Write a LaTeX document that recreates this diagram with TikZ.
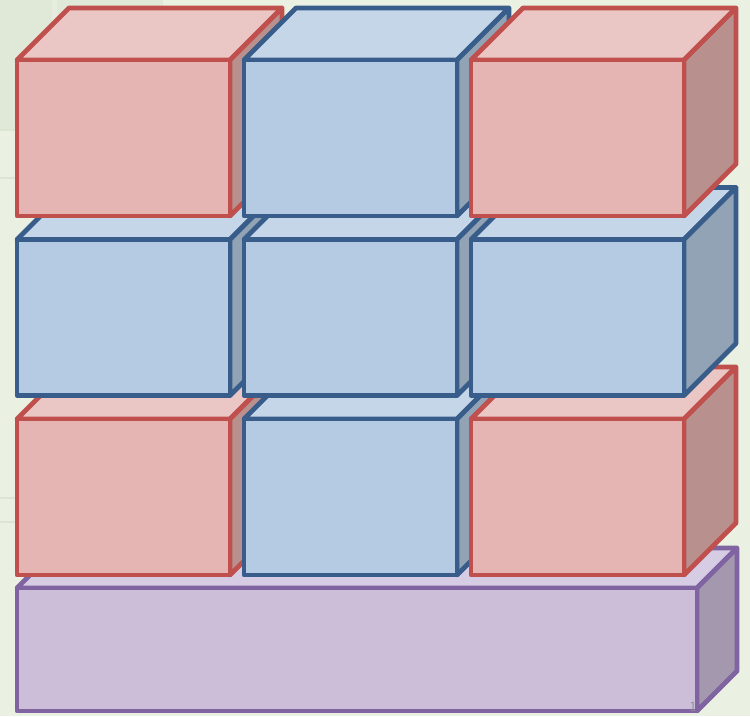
\documentclass[tikz,border=0pt]{standalone}
\usepackage{tikz}
\definecolor{bg}{HTML}{EBF1E2}
\definecolor{bgdark}{HTML}{E0E8D8}
\definecolor{bgline}{HTML}{DCE4D3}
\definecolor{redline}{HTML}{C0504D}
\definecolor{redfront}{HTML}{E5B5B4}
\definecolor{redtop}{HTML}{EAC6C5}
\definecolor{redside}{HTML}{B8918F}
\definecolor{blueline}{HTML}{385D8A}
\definecolor{bluefront}{HTML}{B5CAE3}
\definecolor{bluetop}{HTML}{C5D6E9}
\definecolor{blueside}{HTML}{91A3B5}
\definecolor{purpleline}{HTML}{8064A2}
\definecolor{purplefront}{HTML}{CCBED8}
\definecolor{purpletop}{HTML}{D6CCE4}
\definecolor{purpleside}{HTML}{A398AE}
\definecolor{pagegray}{HTML}{8C8C8C}
% #1 x, #2 y (front top-left), #3 width, #4 height, #5 depth, #6 colour prefix
\newcommand{\cuboid}[6]{%
  \filldraw[draw=#6line, fill=#6top] (#1,#2) -- (#1+#5,#2-#5) -- (#1+#3+#5,#2-#5) -- (#1+#3,#2) -- cycle;
  \filldraw[draw=#6line, fill=#6side] (#1+#3,#2) -- (#1+#3+#5,#2-#5) -- (#1+#3+#5,#2+#4-#5) -- (#1+#3,#2+#4) -- cycle;
  \filldraw[draw=#6line, fill=#6front] (#1,#2) rectangle (#1+#3,#2+#4);
}
\begin{document}
\begin{tikzpicture}[x=1pt,y=-1pt,line width=4.8pt,line join=round]
\fill[bg] (0,0) rectangle (750,716);
\useasboundingbox (0,0) rectangle (750,716);
% faint background decorations
\fill[bgdark] (0,0) rectangle (163,130);
\fill[bg!60!bgdark] (52,0) rectangle (57,130);
\draw[bgline,line width=2pt] (0,130) -- (20,130);
\draw[bgline,line width=2pt] (0,178) -- (20,178);
\draw[bgline,line width=2pt] (0,498) -- (20,498);
\draw[bgline,line width=2pt] (0,522) -- (20,522);
% bottom slab
\cuboid{17}{588}{680}{123}{40}{purple}
% row 3
\cuboid{17}{419}{213}{156}{52}{red}
\cuboid{244}{419}{213}{156}{52}{blue}
\cuboid{471}{419}{213}{156}{52}{red}
% row 2
\cuboid{17}{239.5}{213}{156}{52}{blue}
\cuboid{244}{239.5}{213}{156}{52}{blue}
\cuboid{471}{239.5}{213}{156}{52}{blue}
% row 1
\cuboid{17}{60}{213}{156}{52}{red}
\cuboid{244}{60}{213}{156}{52}{blue}
\cuboid{471}{60}{213}{156}{52}{red}
% page number
\node[text=pagegray, font=\sffamily\fontsize{14}{14}\selectfont, anchor=south, inner sep=0pt] (pagenum) at (693,714) {1};
\end{tikzpicture}
\end{document}
